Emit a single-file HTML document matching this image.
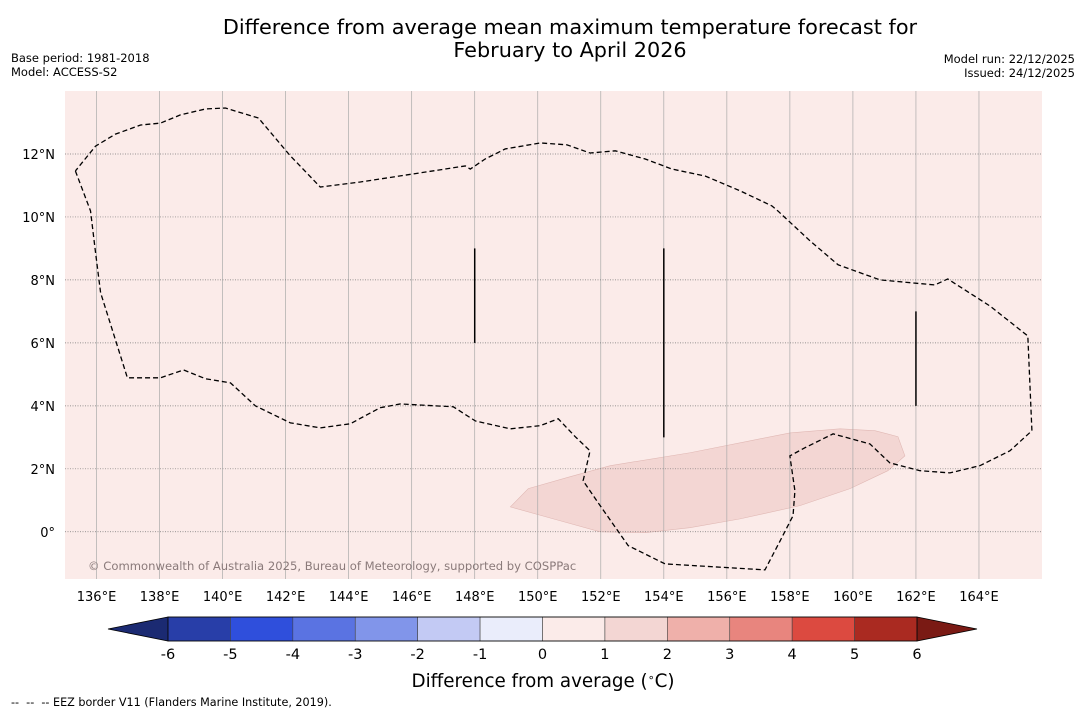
<!DOCTYPE html>
<html><head><meta charset="utf-8"><style>
body{margin:0;background:#fff;width:1085px;height:713px;overflow:hidden;font-family:"DejaVu Sans","Liberation Sans",sans-serif}
svg text{font-family:"DejaVu Sans","Liberation Sans",sans-serif;white-space:pre}
</style></head><body>
<svg id="chart" width="1085" height="713" xmlns="http://www.w3.org/2000/svg">
<text x="570" y="34" font-size="20.8" text-anchor="middle">Difference from average mean maximum temperature forecast for</text>
<text x="570" y="57" font-size="20.8" text-anchor="middle">February to April 2026</text>
<text x="11" y="62" font-size="11.5">Base period: 1981-2018</text>
<text x="11" y="76" font-size="11.5">Model: ACCESS-S2</text>
<text x="1075" y="63" font-size="11.5" text-anchor="end">Model run: 22/12/2025</text>
<text x="1075" y="77" font-size="11.5" text-anchor="end">Issued: 24/12/2025</text>
<g id="map"></g>
<g id="cbar"></g>
<text x="543" y="687" font-size="18.3" text-anchor="middle">Difference from average (<tspan font-size="11" dy="-6">∘</tspan><tspan dy="6">C)</tspan></text>
<text x="11" y="706" font-size="11.2">--  --  -- EEZ border V11 (Flanders Marine Institute, 2019).</text>
</svg>
<script>
const lonMin=135,lonMax=166,latMin=-1.5,latMax=14;
const X0=65,X1=1042,Y0=91,Y1=579;
const lonTicks=[136,138,140,142,144,146,148,150,152,154,156,158,160,162,164];
const latTicks=[0,2,4,6,8,10,12];
const eezLon=[135.33,135.81,135.97,136.13,136.98,138.03,138.76,139.46,140.25,141.04,142.15,143.10,144.05,145.00,145.64,147.32,148.02,149.13,150.08,150.65,151.19,151.66,151.44,151.98,152.87,154.04,157.21,157.69,158.10,158.16,158.00,158.48,159.37,160.54,161.17,162.13,163.08,164.03,164.98,165.68,165.55,164.35,163.01,162.60,160.86,159.53,158.64,157.62,157.43,156.42,155.31,154.26,153.41,152.46,151.66,150.93,150.08,148.97,148.33,147.86,147.70,146.27,144.37,143.10,142.15,141.14,140.09,139.46,138.66,138.03,137.40,136.60,135.97,135.33];
const eezLat=[11.46,10.19,8.86,7.59,4.89,4.89,5.14,4.86,4.73,4.0,3.46,3.30,3.43,3.94,4.06,3.97,3.52,3.27,3.37,3.59,3.02,2.57,1.62,0.83,-0.44,-1.02,-1.21,-0.29,0.51,1.30,2.41,2.67,3.11,2.79,2.19,1.94,1.87,2.10,2.57,3.21,6.22,7.17,8.03,7.84,8.00,8.48,9.24,10.19,10.35,10.83,11.30,11.52,11.84,12.10,12.03,12.29,12.35,12.16,11.84,11.52,11.62,11.40,11.11,10.95,11.94,13.14,13.46,13.43,13.24,12.98,12.92,12.63,12.25,11.46];
const patchLon=[149.13,149.70,151.03,152.30,154.83,156.74,158.00,159.59,160.70,161.43,161.65,161.11,159.91,158.32,156.42,154.83,153.41,151.98,150.71];
const patchLat=[0.79,1.37,1.75,2.10,2.51,2.89,3.14,3.27,3.21,3.02,2.41,1.94,1.37,0.83,0.41,0.13,-0.03,0.0,0.35];
const segLon=[148,154,162];
const segLatTop=[9,9,7];
const segLatBot=[6,3,4];
const cbLevels=[-6,-5,-4,-3,-2,-1,0,1,2,3,4,5,6];
const cbColors=["#283ea8","#2f4fdc","#5a73e2","#8195ea","#c3caf4","#eaedfb","#fbebe9","#f3d6d3","#efb0aa","#e8857e","#dc4a40","#aa2a21"];
const NS="http://www.w3.org/2000/svg";
const sx=l=>X0+(l-lonMin)/(lonMax-lonMin)*(X1-X0);
const sy=l=>Y1-(l-latMin)/(latMax-latMin)*(Y1-Y0);
function mk(tag,attrs,parent){const e=document.createElementNS(NS,tag);for(const k in attrs)e.setAttribute(k,attrs[k]);parent.appendChild(e);return e;}
const map=document.getElementById('map');
let bg=mk('rect',{x:X0,y:Y0,width:X1-X0,height:Y1-Y0,fill:'#fbebe9'},map);


let pp=mk('polygon',{points:patchLon.map((l,i)=>sx(l)+','+sy(patchLat[i])).join(' '),fill:'#f3d6d3',stroke:'#e0b8b4','stroke-width':0.6},map);


lonTicks.forEach(l=>{
 let g=mk('line',{x1:sx(l),x2:sx(l),y1:Y0,y2:Y1,stroke:'#aaa','stroke-width':0.7},map);
 
 
 let t=mk('text',{x:sx(l),y:Y1+22,'font-size':13,'text-anchor':'middle'},map);t.textContent=l+'°E';
 
 
});
latTicks.forEach(l=>{
 let g=mk('line',{x1:X0,x2:X1,y1:sy(l),y2:sy(l),stroke:'#777','stroke-width':0.7,'stroke-dasharray':'1,1.5'},map);
 
 
 let t=mk('text',{x:X0-10,y:sy(l)+5,'font-size':13,'text-anchor':'end'},map);t.textContent=l===0?'0°':l+'°N';
 
 
});
let ez=mk('polyline',{points:eezLon.map((l,i)=>sx(l)+','+sy(eezLat[i])).join(' '),fill:'none',stroke:'#000','stroke-width':1.3,'stroke-dasharray':'5,3'},map);


segLon.forEach((l,i)=>{
 let s=mk('line',{x1:sx(l),x2:sx(l),y1:sy(segLatTop[i]),y2:sy(segLatBot[i]),stroke:'#000','stroke-width':1.5},map);
 
 
});
let cp=mk('text',{x:88,y:570,'font-size':11.6,fill:'#8a7a7a'},map);cp.textContent='© Commonwealth of Australia 2025, Bureau of Meteorology, supported by COSPPac';


const cb=document.getElementById('cbar');
const CX0=168,CX1=917,CY0=617,CY1=641;
const cx=v=>CX0+(v-cbLevels[0])/(cbLevels[cbLevels.length-1]-cbLevels[0])*(CX1-CX0);
let la=mk('polygon',{points:`${CX0},${CY0} ${108},${(CY0+CY1)/2} ${CX0},${CY1}`,fill:'#1b2a72',stroke:'#000','stroke-width':0.8},cb);


let ra=mk('polygon',{points:`${CX1},${CY0} ${977},${(CY0+CY1)/2} ${CX1},${CY1}`,fill:'#7a1a14',stroke:'#000','stroke-width':0.8},cb);


cbColors.forEach((c,i)=>{
 let r=mk('rect',{x:cx(cbLevels[i]),y:CY0,width:cx(cbLevels[i+1])-cx(cbLevels[i]),height:CY1-CY0,fill:c,stroke:'#444','stroke-width':0.6},cb);
 
 
});
mk('rect',{x:CX0,y:CY0,width:CX1-CX0,height:CY1-CY0,fill:'none',stroke:'#000','stroke-width':0.8},cb);
cbLevels.forEach(v=>{
 let t=mk('text',{x:cx(v),y:CY1+18,'font-size':14.5,'text-anchor':'middle'},cb);t.textContent=v;
 
 
});
</script>
</body></html>
